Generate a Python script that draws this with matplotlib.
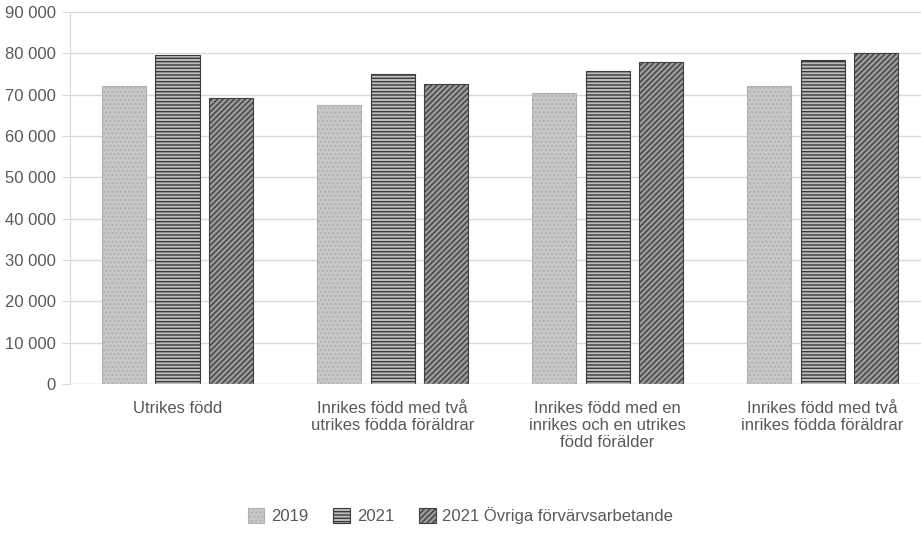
import numpy as np
import matplotlib.pyplot as plt
from matplotlib.ticker import FuncFormatter

plt.rcParams['font.family'] = ['Liberation Sans', 'DejaVu Sans']
plt.rcParams['hatch.linewidth'] = 1.0

categories = ["Utrikes född",
              "Inrikes född med två\nutrikes födda föräldrar",
              "Inrikes född med en\ninrikes och en utrikes\nfödd förälder",
              "Inrikes född med två\ninrikes födda föräldrar"]
series = ["2019", "2021", "2021 Övriga förvärvsarbetande"]
v2019 = [72200, 67400, 70500, 72000]
v2021 = [79500, 75100, 75800, 78300]
v_ovriga = [69300, 72700, 77800, 80200]

fig = plt.figure(figsize=(9.21, 5.39), dpi=100)
ax = fig.add_axes([0.076, 0.2876, 0.934, 0.690])

x = np.arange(len(categories))
w = 0.205
step = 0.25
styles = [
    dict(facecolor='#c8c8c8', edgecolor='#b0b0b0', hatch='....'),
    dict(facecolor='#bdbdbd', edgecolor='#3a3a3a', hatch='-----'),
    dict(facecolor='#9a9a9a', edgecolor='#404040', hatch='//////'),
]
for i, (vals, st) in enumerate(zip([v2019, v2021, v_ovriga], styles)):
    ax.bar(x + (i - 1) * step, vals, w, label=series[i], linewidth=0.8, **st)

ax.set_xlim(-0.5, 3.5)
ax.set_ylim(0, 90000)
ax.set_yticks(np.arange(0, 90001, 10000))
ax.yaxis.set_major_formatter(FuncFormatter(lambda v, p: f"{int(v):,}".replace(",", " ")))
ax.grid(axis='y', color='#d9d9d9', linewidth=1)
ax.set_axisbelow(True)
for s in ['top', 'right', 'bottom']:
    ax.spines[s].set_visible(False)
ax.spines['left'].set_color('#d9d9d9')
ax.tick_params(axis='y', length=6, color='#d9d9d9', labelsize=12, labelcolor='#595959', pad=4)
ax.tick_params(axis='x', length=0, labelsize=12, labelcolor='#595959', pad=12)
ax.set_xticks(x)
ax.set_xticklabels(categories)
ax.axhline(0, color='#d9d9d9', linewidth=1)

fig.legend(loc='lower center', bbox_to_anchor=(0.5, 0.0), ncol=3, frameon=False,
           fontsize=12, labelcolor='#595959', handlelength=1.0, handleheight=1.0,
           columnspacing=1.5, handletextpad=0.4)

fig.savefig('out.png', dpi=100)
